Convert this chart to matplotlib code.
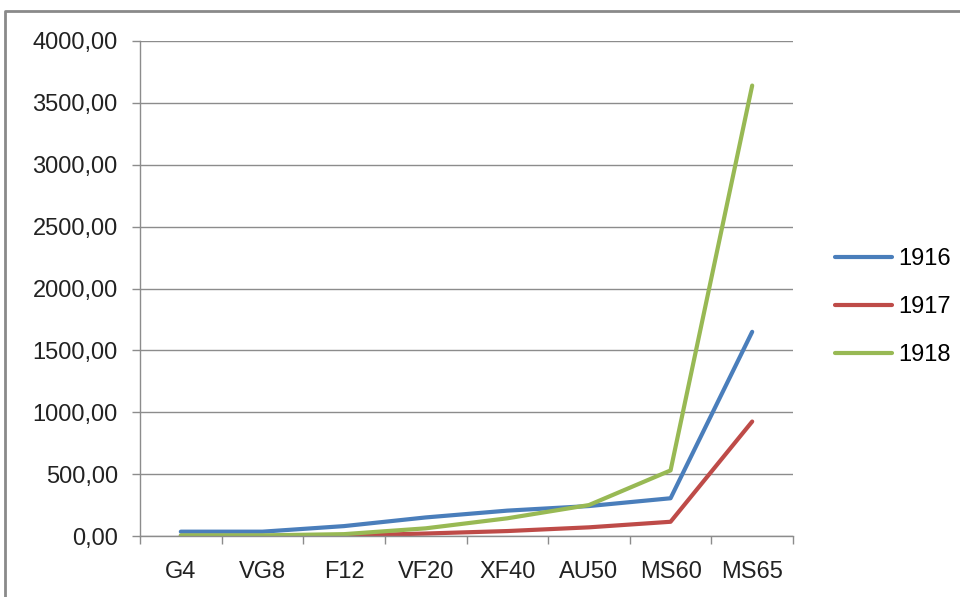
import matplotlib.pyplot as plt
from matplotlib.lines import Line2D
from matplotlib.ticker import FuncFormatter, MultipleLocator

grades = ['G4', 'VG8', 'F12', 'VF20', 'XF40', 'AU50', 'MS60', 'MS65']
y1916 = [35, 35, 80, 150, 205, 242, 305, 1650]
y1917 = [0, 0, 3, 20, 40, 70, 115, 925]
y1918 = [5, 5, 15, 62, 143, 250, 530, 3640]

plt.rcParams['font.family'] = ['Liberation Sans', 'DejaVu Sans']
fs = 17

fig = plt.figure(figsize=(9.6, 5.97), dpi=100)
ax = fig.add_axes([140 / 960, 61 / 597, 653 / 960, 495 / 597])

x = range(len(grades))
ax.plot(x, y1916, color='#4a7ebb', lw=3, label='1916', solid_joinstyle='round', solid_capstyle='round')
ax.plot(x, y1917, color='#be4b48', lw=3, label='1917', solid_joinstyle='round', solid_capstyle='round')
ax.plot(x, y1918, color='#98b954', lw=3, label='1918', solid_joinstyle='round', solid_capstyle='round')

ax.set_xlim(-0.5, len(grades) - 0.5)
ax.set_ylim(0, 4000)
ax.yaxis.set_major_locator(MultipleLocator(500))
ax.yaxis.set_major_formatter(FuncFormatter(lambda v, p: f'{v:.2f}'.replace('.', ',')))
ax.grid(axis='y', color='#8c8c8c', lw=1)
ax.set_axisbelow(True)

ax.set_xticks(list(x))
ax.set_xticklabels(grades)
ax.set_xticks([i - 0.5 for i in range(len(grades) + 1)], minor=True)
ax.tick_params(axis='x', which='major', length=0, pad=18, labelsize=fs, colors='#222222')
ax.tick_params(axis='x', which='minor', length=6, width=1, color='#8c8c8c')
ax.tick_params(axis='y', length=6, width=1, color='#8c8c8c', pad=10, labelsize=fs, labelcolor='#222222')

for s in ['top', 'right']:
    ax.spines[s].set_visible(False)
for s in ['left', 'bottom']:
    ax.spines[s].set_color('#8c8c8c')
    ax.spines[s].set_linewidth(1)

ax.legend(loc='center left', bbox_to_anchor=(814 / 960, 1 - 307 / 597),
          bbox_transform=fig.transFigure, frameon=False, fontsize=fs,
          handlelength=2.4, handletextpad=0.25, labelspacing=1.1)

# outer chart border
fig.add_artist(Line2D([5 / 960, 5 / 960, 1], [0, 1 - 11 / 597, 1 - 11 / 597],
                      transform=fig.transFigure, color='#8a8a8a', lw=2))

fig.savefig('out.png', dpi=100)
